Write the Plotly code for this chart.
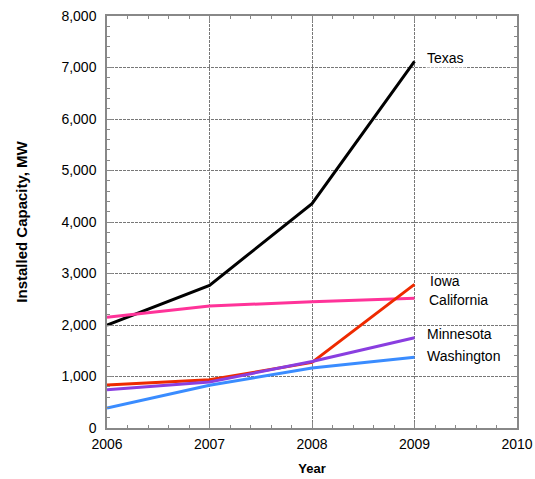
import plotly.graph_objects as go

years = [2006, 2007, 2008, 2009]
texas = [2000, 2770, 4356, 7118]
california = [2150, 2370, 2450, 2520]
iowa = [836, 936, 1273, 2790]
minnesota = [745, 895, 1290, 1752]
washington = [390, 830, 1165, 1375]

series = [
    ("Texas", texas, "#000000"),
    ("California", california, "#ff3399"),
    ("Iowa", iowa, "#ee2a00"),
    ("Minnesota", minnesota, "#8a3ee0"),
    ("Washington", washington, "#3a8cff"),
]

fig = go.Figure()
for name, vals, color in series:
    fig.add_trace(go.Scatter(x=years, y=vals, mode="lines", name=name,
                             line=dict(color=color, width=3), showlegend=False))

font = "Liberation Sans, Arial, sans-serif"
labels = [("Texas", 2009.1, 7180, True), ("Iowa", 2009.13, 2850, False),
          ("California", 2009.12, 2480, False), ("Minnesota", 2009.1, 1830, False),
          ("Washington", 2009.1, 1400, False)]
for text, x, y, bg in labels:
    fig.add_annotation(x=x, y=y, text=text, showarrow=False, xanchor="left",
                       yanchor="middle", font=dict(family=font, size=14, color="#000"),
                       bgcolor="white" if bg else None, borderpad=1)

axis_common = dict(showline=True, linecolor="#888", linewidth=1.5, mirror="ticks",
                   ticks="inside", ticklen=6, tickcolor="#888", automargin=False,
                   ticklabeloverflow="allow",
                   showgrid=True, gridcolor="#777", griddash="3px,1px", gridwidth=1,
                   zeroline=False, tickfont=dict(family=font, size=14, color="#000"))

fig.update_xaxes(range=[2006, 2010], dtick=1, tickformat="d", ticklabelstandoff=2,
                 minor=dict(ticks="inside", dtick=0.2, ticklen=3, tickcolor="#888", showgrid=False),
                 title=dict(text="<b>Year</b>", font=dict(family=font, size=13, color="#000"), standoff=13),
                 **axis_common)
fig.update_yaxes(range=[0, 8000], dtick=1000, tickformat=",", ticklabelstandoff=6,
                 minor=dict(ticks="inside", dtick=200, ticklen=3, tickcolor="#888", showgrid=False),
                 title=dict(text="<b>Installed Capacity, MW</b>", font=dict(family=font, size=15, color="#000"), standoff=30),
                 **axis_common)

fig.update_layout(width=535, height=479, plot_bgcolor="white", paper_bgcolor="white",
                  margin=dict(l=107, r=18, t=16, b=51))

# remove the browser's default body margin so the figure fills the window exactly
fig.write_html("out.html", config={"displayModeBar": False},
               post_script="document.body.style.margin='0';document.body.style.overflow='hidden';")
